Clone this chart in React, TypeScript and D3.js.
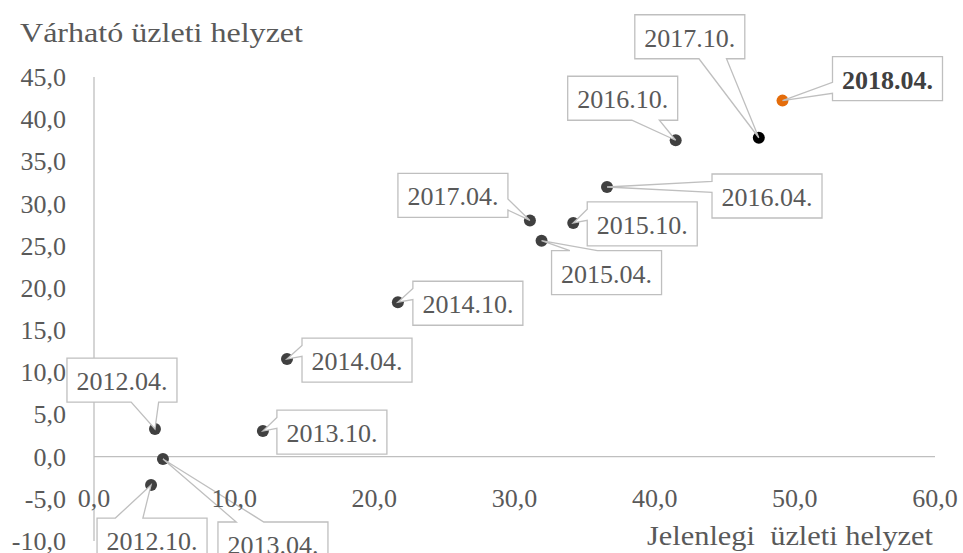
import React, { useEffect, useRef } from 'react';
import * as d3 from 'd3';

const periods = ['2012.04.', '2012.10.', '2013.04.', '2013.10.', '2014.04.', '2014.10.', '2015.04.',
    '2015.10.', '2016.04.', '2016.10.', '2017.04.', '2017.10.', '2018.04.'];
// Jelenlegi üzleti helyzet (x)
const currentValues = [4.35, 4.07, 4.92, 12.05, 13.77, 21.68, 31.93, 34.19, 36.6, 41.5, 31.1, 47.43, 49.12];
// Várható üzleti helyzet (y)
const expectedValues = [3.27, -3.37, -0.28, 3.03, 11.57, 18.3, 25.6, 27.7, 31.96, 37.5, 28.0, 37.8, 42.2];

const xTicks = [0, 10, 20, 30, 40, 50, 60];
const yTicks = [-10, -5, 0, 5, 10, 15, 20, 25, 30, 35, 40, 45];

// where each callout box sits, relative to its point (px)
const labelOffsets: [number, number][] = [
    [-33, -49], [1, 55], [110, 85], [69, 1], [70, 1], [70, 1], [65, 32],
    [69, 1], [160, 9], [-53, -42], [-77, -25], [-69, -101], [105, -22]
];

const fmt = (v: number) => v.toFixed(1).replace('.', ',');

const App = ({ width = 963, height = 553 }) => {
    const svgRef = useRef<SVGSVGElement>(null);

    useEffect(() => {
        const font = '"Palatino Linotype", "Book Antiqua", "Liberation Serif", serif';
        const textColor = '#595959';
        const lineColor = '#bfbfbf';

        const x = d3.scaleLinear().domain([0, 60]).range([94, 935]);
        const y = d3.scaleLinear().domain([-10, 45]).range([541, 77]);

        const svg = d3.select(svgRef.current)
            .attr('width', width)
            .attr('height', height);
        svg.selectAll('*').remove();

        svg.append('rect').attr('width', width).attr('height', height).attr('fill', '#fff');

        // axes lines
        svg.append('line')
            .attr('x1', x(0)).attr('x2', x(0))
            .attr('y1', y(45)).attr('y2', y(-10))
            .attr('stroke', lineColor).attr('stroke-width', 1.3);
        svg.append('line')
            .attr('x1', x(0)).attr('x2', x(60))
            .attr('y1', y(0)).attr('y2', y(0))
            .attr('stroke', lineColor).attr('stroke-width', 1.3);

        const points = periods.map((p, i) => ({
            name: p,
            px: x(currentValues[i]),
            py: y(expectedValues[i]),
            off: labelOffsets[i]
        }));

        // markers
        svg.selectAll('circle.pt')
            .data(points)
            .enter().append('circle')
            .attr('class', 'pt')
            .attr('cx', d => d.px)
            .attr('cy', d => d.py)
            .attr('r', 6)
            .attr('fill', d => d.name === '2018.04.' ? '#E46C0A' : d.name === '2017.10.' ? '#000' : '#404040');

        // callouts (box + wedge to the point)
        const bw = 110, bh = 44;
        const calloutPath = (d: any) => {
            const cx = d.px + d.off[0], cy = d.py + d.off[1];
            const x0 = cx - bw / 2, x1 = cx + bw / 2, y0 = cy - bh / 2, y1 = cy + bh / 2;
            const dx = d.px - cx, dy = d.py - cy;
            const tip: [number, number] = [d.px, d.py];
            const fx = dx < 0 ? [2 / 12, 5 / 12] : [7 / 12, 10 / 12];
            const fy = dy < 0 ? [2 / 12, 5 / 12] : [7 / 12, 10 / 12];
            let side = '';
            if (Math.abs(dx) / bw > Math.abs(dy) / bh) side = dx < 0 ? 'left' : 'right';
            else side = dy < 0 ? 'top' : 'bottom';
            const pts: [number, number][] = [[x0, y0]];
            if (side === 'top') pts.push([x0 + fx[0] * bw, y0], tip, [x0 + fx[1] * bw, y0]);
            pts.push([x1, y0]);
            if (side === 'right') pts.push([x1, y0 + fy[0] * bh], tip, [x1, y0 + fy[1] * bh]);
            pts.push([x1, y1]);
            if (side === 'bottom') pts.push([x0 + fx[1] * bw, y1], tip, [x0 + fx[0] * bw, y1]);
            pts.push([x0, y1]);
            if (side === 'left') pts.push([x0, y0 + fy[1] * bh], tip, [x0, y0 + fy[0] * bh]);
            return d3.line()(pts) + 'Z';
        };

        const callouts = svg.selectAll('g.callout')
            .data(points)
            .enter().append('g')
            .attr('class', 'callout');

        callouts.append('path')
            .attr('d', calloutPath)
            .attr('fill', '#fff')
            .attr('stroke', lineColor)
            .attr('stroke-width', 1.3)
            .attr('stroke-linejoin', 'miter');

        callouts.append('text')
            .attr('x', d => d.px + d.off[0])
            .attr('y', d => d.py + d.off[1] + 10)
            .attr('text-anchor', 'middle')
            .style('font-family', font)
            .style('font-size', '26px')
            .style('font-weight', d => d.name === '2018.04.' ? 'bold' : 'normal')
            .attr('fill', d => d.name === '2018.04.' ? '#404040' : textColor)
            .text(d => d.name);

        // tick labels
        svg.selectAll('text.ytick')
            .data(yTicks)
            .enter().append('text')
            .attr('class', 'ytick')
            .attr('x', 66)
            .attr('y', d => y(d) + 9)
            .attr('text-anchor', 'end')
            .style('font-family', font)
            .style('font-size', '26px')
            .attr('fill', textColor)
            .text(d => fmt(d));

        svg.selectAll('text.xtick')
            .data(xTicks)
            .enter().append('text')
            .attr('class', 'xtick')
            .attr('x', d => x(d))
            .attr('y', 507)
            .attr('text-anchor', 'middle')
            .style('font-family', font)
            .style('font-size', '26px')
            .attr('fill', textColor)
            .text(d => fmt(d));

        // axis titles
        svg.append('text')
            .attr('x', 20)
            .attr('y', 42)
            .attr('textLength', 283)
            .attr('lengthAdjust', 'spacingAndGlyphs')
            .style('font-family', font)
            .style('font-size', '27px')
            .attr('fill', textColor)
            .text('Várható üzleti helyzet');

        svg.append('text')
            .attr('x', 647)
            .attr('y', 545)
            .attr('textLength', 286)
            .attr('lengthAdjust', 'spacingAndGlyphs')
            .style('font-family', font)
            .style('font-size', '27px')
            .style('white-space', 'pre')
            .attr('fill', textColor)
            .text('Jelenlegi  üzleti helyzet');

    }, [width, height]);

    return (
        <svg ref={svgRef} style={{ position: 'absolute', left: 0, top: 0 }}></svg>
    );
};

export default App;
